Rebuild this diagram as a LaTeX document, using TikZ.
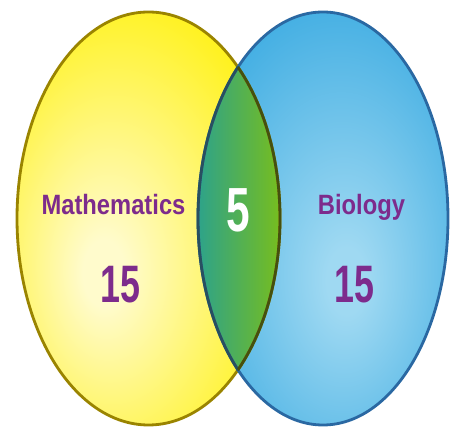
\documentclass[tikz,border=0pt]{standalone}
\usepackage{fontspec}
\usepackage{xcolor}
\usepackage{tikz}
\usetikzlibrary{positioning}
\newfontfamily\vennword{Liberation Sans}[FakeStretch=0.85]
\newfontfamily\venndigit{Liberation Sans}[FakeStretch=0.68]
\definecolor{mYellow}{HTML}{FFF000}
\definecolor{mGlow}{HTML}{FFFBCC}
\definecolor{mRim}{HTML}{9A8400}
\definecolor{bBlue}{HTML}{2CA4DF}
\definecolor{bGlow}{HTML}{9FD9F2}
\definecolor{bRim}{HTML}{2A68A2}
\definecolor{lTeal}{HTML}{2CA28C}
\definecolor{lGreen}{HTML}{3BA63A}
\definecolor{lLime}{HTML}{78BE1C}
\definecolor{lRimL}{HTML}{284F60}
\definecolor{lRimR}{HTML}{45500F}
\definecolor{vPurple}{HTML}{7D2B8C}
\pgfdeclareradialshading{mathGlow}{\pgfpoint{-9bp}{-7bp}}{color(0bp)=(mGlow); color(4bp)=(mGlow); color(36bp)=(mYellow); color(50bp)=(mYellow); color(72bp)=(mYellow)}
\pgfdeclareradialshading{bioGlow}{\pgfpoint{5bp}{-8bp}}{color(0bp)=(bGlow); color(4bp)=(bGlow); color(38bp)=(bBlue); color(50bp)=(bBlue); color(72bp)=(bBlue)}
\tikzset{
  setrim/.style={line width=1.6pt},
  setlabel/.style={font=\vennword\bfseries\fontsize{15.9}{18}\selectfont,
    text=vPurple, anchor=base, inner sep=0pt},
  setcount/.style={font=\venndigit\bfseries\fontsize{30}{34}\selectfont,
    text=vPurple, anchor=base, inner sep=0pt},
  lenscount/.style={setcount, font=\venndigit\bfseries\fontsize{35.5}{40}\selectfont,
    text=white},
}

\begin{document}
\begin{tikzpicture}[x=0.02cm, y=0.02cm]
  \useasboundingbox (0,0) rectangle (450,429);
  \coordinate (mathC) at (148.5,210.5);
  \coordinate (bioC) at (323,210.5);
  % the two sets
  \shade[shading=mathGlow] (mathC) ellipse [x radius=131.5, y radius=206.5];
  \shade[shading=bioGlow] (bioC) ellipse [x radius=125, y radius=206.5];
  % overlap
  \begin{scope}
    \clip (mathC) ellipse [x radius=131.5, y radius=206.5];
    \clip (bioC) ellipse [x radius=125, y radius=206.5];
    \shade[left color=lTeal, middle color=lGreen, right color=lLime] (196,0) rectangle (282,429);
  \end{scope}
  \draw[setrim, mRim] (mathC) ellipse [x radius=131.5, y radius=206.5];
  \draw[setrim, bRim] (bioC) ellipse [x radius=125, y radius=206.5];
  \begin{scope}
    \clip (mathC) ellipse [x radius=131.5, y radius=206.5];
    \draw[setrim, lRimL] (bioC) ellipse [x radius=125, y radius=206.5];
  \end{scope}
  \begin{scope}
    \clip (bioC) ellipse [x radius=125, y radius=206.5];
    \draw[setrim, lRimR] (mathC) ellipse [x radius=131.5, y radius=206.5];
  \end{scope}
  % labels
  \node[setlabel] (mathName) at (113.5,214) {Mathematics};
  \node[setlabel] (bioName) at (361.5,214) {Biology};
  \node[setcount] (mathOnly) at (120.5,126) {15};
  \node[setcount] (bioOnly) at (354.5,126) {15};
  \node[lenscount] (both) at (238,197) {5};
\end{tikzpicture}
\end{document}
